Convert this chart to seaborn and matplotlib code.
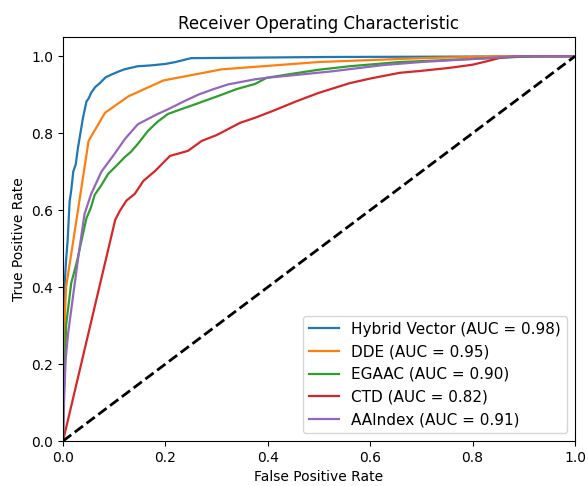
import matplotlib
matplotlib.use("Agg")
import matplotlib.pyplot as plt
import seaborn as sns
import pandas as pd

labels = ["Hybrid Vector", "DDE", "EGAAC", "CTD", "AAIndex"]
aucs = [0.98, 0.95, 0.90, 0.82, 0.91]
colors = ["#1f77b4", "#ff7f0e", "#2ca02c", "#d62728", "#9467bd"]

hybrid_fpr = [0, 0, 0.003, 0.006, 0.009, 0.013, 0.016, 0.02, 0.025, 0.029, 0.034, 0.039, 0.046, 0.05, 0.055, 0.063, 0.072, 0.083, 0.094, 0.108, 0.12, 0.146, 0.17, 0.2, 0.22, 0.25, 0.51, 1.0]
hybrid_tpr = [0, 0.2, 0.4, 0.47, 0.52, 0.624, 0.65, 0.70, 0.72, 0.76, 0.80, 0.84, 0.883, 0.89, 0.905, 0.92, 0.93, 0.945, 0.952, 0.96, 0.966, 0.974, 0.976, 0.98, 0.985, 0.995, 0.998, 1.0]

dde_fpr = [0, 0.003, 0.006, 0.013, 0.02, 0.05, 0.082, 0.128, 0.196, 0.31, 0.5, 0.7, 0.85, 1.0]
dde_tpr = [0, 0.3, 0.40, 0.46, 0.52, 0.78, 0.853, 0.896, 0.937, 0.966, 0.985, 0.995, 1.0, 1.0]

egaac_fpr = [0, 0.001, 0.004, 0.006, 0.016, 0.027, 0.036, 0.046, 0.054, 0.062, 0.075, 0.088, 0.104, 0.12, 0.133, 0.146, 0.166, 0.185, 0.205, 0.23, 0.258, 0.285, 0.31, 0.34, 0.375, 0.398, 0.45, 0.5, 0.56, 0.658, 0.82, 0.92, 1.0]
egaac_tpr = [0, 0.1, 0.2, 0.3, 0.41, 0.465, 0.52, 0.58, 0.605, 0.64, 0.665, 0.694, 0.715, 0.737, 0.752, 0.772, 0.806, 0.83, 0.85, 0.862, 0.875, 0.888, 0.9, 0.915, 0.928, 0.944, 0.955, 0.965, 0.974, 0.985, 0.994, 1.0, 1.0]

ctd_fpr = [0, 0.102, 0.111, 0.124, 0.14, 0.157, 0.18, 0.209, 0.244, 0.271, 0.3, 0.323, 0.346, 0.375, 0.41, 0.456, 0.5, 0.56, 0.6, 0.658, 0.7, 0.756, 0.8, 0.828, 0.854, 0.893, 1.0]
ctd_tpr = [0, 0.575, 0.598, 0.625, 0.642, 0.676, 0.702, 0.741, 0.754, 0.78, 0.795, 0.811, 0.827, 0.84, 0.858, 0.883, 0.905, 0.93, 0.942, 0.957, 0.962, 0.97, 0.978, 0.987, 0.996, 1.0, 1.0]

aaindex_fpr = [0, 0.002, 0.005, 0.01, 0.02, 0.029, 0.042, 0.055, 0.075, 0.1, 0.121, 0.146, 0.166, 0.185, 0.205, 0.235, 0.264, 0.295, 0.323, 0.375, 0.398, 0.46, 0.527, 0.625, 0.7, 0.789, 0.887, 1.0]
aaindex_tpr = [0, 0.1, 0.21, 0.28, 0.38, 0.47, 0.59, 0.642, 0.70, 0.745, 0.785, 0.823, 0.837, 0.85, 0.862, 0.882, 0.9, 0.915, 0.927, 0.94, 0.944, 0.952, 0.961, 0.977, 0.985, 0.992, 1.0, 1.0]

series = [(hybrid_fpr, hybrid_tpr), (dde_fpr, dde_tpr), (egaac_fpr, egaac_tpr),
          (ctd_fpr, ctd_tpr), (aaindex_fpr, aaindex_tpr)]

plt.rcParams['font.family'] = ['DejaVu Sans']
fig = plt.figure(figsize=(5.88, 4.86), dpi=100)
ax = fig.add_axes([63/588, 1-441/486, 512/588, 404/486])

for (fpr, tpr), lab, auc, col in zip(series, labels, aucs, colors):
    df = pd.DataFrame({"fpr": fpr, "tpr": tpr})
    sns.lineplot(data=df, x="fpr", y="tpr", sort=False, estimator=None, ax=ax,
                 color=col, linewidth=1.6, label=f"{lab} (AUC = {auc:.2f})")

ax.plot([0, 1], [0, 1], 'k--', linewidth=2)
ax.set_xlim(0.0, 1.0)
ax.set_ylim(0.0, 1.05)
ax.set_xlabel("False Positive Rate")
ax.set_ylabel("True Positive Rate")
ax.set_title("Receiver Operating Characteristic", fontsize=12)
ax.legend(loc="lower right", fontsize=11)
fig.savefig("out.png", dpi=100)
